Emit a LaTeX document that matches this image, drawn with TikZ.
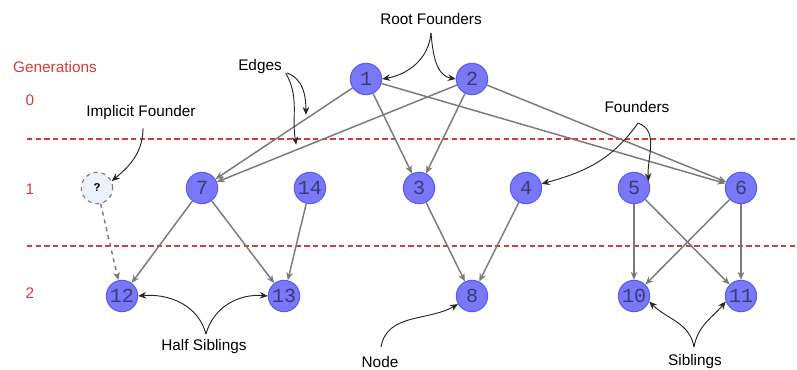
\documentclass[tikz,border=0pt]{standalone}
\usepackage{fontspec}
\setmainfont{Liberation Sans}
\setmonofont{Liberation Mono}
\usepackage{tikz}
\usetikzlibrary{arrows.meta}
\definecolor{gencol}{HTML}{D23C3C}
\definecolor{nodefill}{HTML}{7878F8}
\definecolor{nodeline}{HTML}{5A5AEE}
\definecolor{nodetext}{HTML}{3A3A72}
\definecolor{edgecol}{HTML}{7A7A7A}
\definecolor{ghostfill}{HTML}{EAF2FB}

\begin{document}
\begin{tikzpicture}[
         x = 0.75pt, y = -0.75pt,
  ind/.style = {circle, draw=nodeline, fill=nodefill, line width=0.8pt,
                minimum size=23.5pt, inner sep=0pt, text=nodetext,
                font=\ttfamily\fontsize{15}{15}\selectfont},
ghost/.style = {circle, draw=gray, dashed, fill=ghostfill, line width=0.9pt,
                minimum size=23.5pt, inner sep=0pt,
                font=\bfseries\fontsize{8.5}{9}\selectfont},
 edge/.style = {draw=edgecol, line width=1.1pt, -{Stealth[length=6pt,width=5pt]}},
 note/.style = {draw=black!85, line width=0.7pt, -{Stealth[length=6pt,width=5pt]}},
  lbl/.style = {font=\fontsize{11.5}{13}\selectfont},
  gen/.style = {text=gencol, font=\fontsize{11.5}{13}\selectfont},
 sep/.style = {draw=gencol, line width=1pt, dash pattern=on 4pt off 2.5pt}
                    ]
\useasboundingbox (0,0) rectangle (797,370);
% generation bands
    \node[gen] (gens) at (55,67) {Generations};
    \node[gen] (g0) at (30,100) {0};
    \node[gen] (g1) at (30,189) {1};
    \node[gen] (g2) at (30,293) {2};
    \draw[sep] (27,139) -- (797,139);
    \draw[sep] (27,246) -- (797,246);
% individuals
    \node[ind] (n1) at (366,79) {1};
    \node[ind] (n2) at (472,79) {2};
    \node[ghost] (q) at (97,188) {?};
    \node[ind] (n7) at (202,188) {7};
    \node[ind] (n14) at (310,188) {14};
    \node[ind] (n3) at (419,188) {3};
    \node[ind] (n4) at (526,188) {4};
    \node[ind] (n5) at (634,188) {5};
    \node[ind] (n6) at (741,188) {6};
    \node[ind] (n12) at (122,296) {12};
    \node[ind] (n13) at (284,296) {13};
    \node[ind] (n8) at (472,296) {8};
    \node[ind] (n10) at (634,296) {10};
    \node[ind] (n11) at (741,296) {11};
% parent edges
    \path[edge] (n1) -- (n7) coordinate[pos=0.34] (e1);
    \path[edge] (n2) -- (n7) coordinate[pos=0.67] (e2);
    \path[edge] (n1) -- (n3);
    \path[edge] (n1) -- (n6);
    \path[edge] (n2) -- (n3);
    \path[edge] (n2) -- (n6);
    \path[edge] (n7) -- (n12);
    \path[edge] (n7) -- (n13);
    \path[edge] (n14) -- (n13);
    \path[edge, dashed] (q) -- (n12);
    \path[edge] (n3) -- (n8);
    \path[edge] (n4) -- (n8);
    \path[edge] (n5) -- (n10);
    \path[edge] (n5) -- (n11);
    \path[edge] (n6) -- (n10);
    \path[edge] (n6) -- (n11);
% annotations
    \node[lbl] (root) at (431,19) {Root Founders};
    \node[lbl] (edges) at (260,67) {Edges};
    \node[lbl] (impl) at (141,113) {Implicit Founder};
    \node[lbl] (fnd) at (637,107) {Founders};
    \node[lbl] (half) at (204,347) {Half Siblings};
    \node[lbl] (single) at (380,362) {Node};
    \node[lbl] (sibs) at (695,362) {Siblings};
    \coordinate (rootc) at (431,33);
    \coordinate (edgesc) at (287,73);
    \coordinate (implc) at (143,128);
    \coordinate (fndc) at (638,123);
    \coordinate (halfc) at (206,334);
    \coordinate (singlec) at (381,347);
    \coordinate (sibsc) at (694,347);
    \draw[note] (rootc) to[out=-95,in=10] (n1.east);
    \draw[note] (rootc) to[out=-85,in=170] (n2.west);
    \draw[note] ([xshift=-1pt]edgesc) to[out=-60,in=100] ([yshift=4pt]e2);
    \draw[note] (edgesc) to[out=-20,in=90] ([yshift=3pt]e1);
    \draw[note] (implc) to[out=-90,in=40] (q.25);
    \draw[note] (fndc) to[out=-125,in=15] (n4.15);
    \draw[note] (fndc) to[out=-20,in=95] (n5.25);
    \draw[note] (halfc) to[out=105,in=5] (n12.east);
    \draw[note] (halfc) to[out=75,in=175] (n13.west);
    \draw[note] (singlec) to[out=80,in=-150] (n8.210);
    \draw[note] (sibsc) to[out=100,in=-45] (n10.-20);
    \draw[note] (sibsc) to[out=80,in=-130] (n11.200);
\end{tikzpicture}
\end{document}
